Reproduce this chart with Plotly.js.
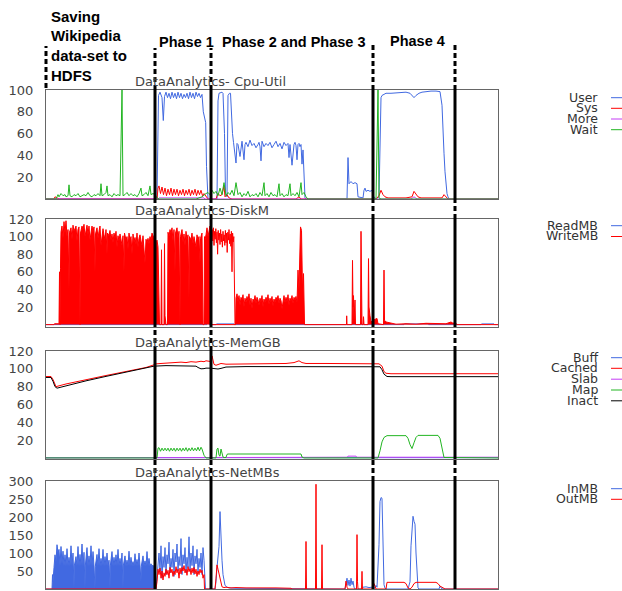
<!DOCTYPE html>
<html><head><meta charset="utf-8">
<script src="https://cdn.plot.ly/plotly-3.0.1.min.js"></script>
<style>html,body{margin:0;padding:0;background:#fff}#chart{width:622px;height:591px}</style>
</head><body><div id="chart"></div>
<script>
// ---------- DATA (time axis in samples, 0..452) ----------
const phaseBounds = [109, 165, 327, 409];
const panelTitles = ["DataAnalytics- Cpu-Util", "DataAnalytics-DiskM", "DataAnalytics-MemGB", "DataAnalytics-NetMBs"];
const cpuNames = ["User", "Sys", "More", "Wait"];
const diskNames = ["ReadMB", "WriteMB"];
const memNames = ["Buff", "Cached", "Slab", "Map", "Inact"];
const netNames = ["InMB", "OutMB"];
const cpuTicks = [20, 40, 60, 80, 100];
const diskTicks = [20, 40, 60, 80, 100, 120];
const memTicks = [20, 40, 60, 80, 100, 120];
const netTicks = [50, 100, 150, 200, 250, 300];

const cpuUserT = [0,111,112.5,114,116,117.3,118.5,120,121.5,123,124.5,126,127.5,129,130.5,132,133.5,135,136.5,138,139.5,141,142.5,144,145.5,147,148.5,150,151.5,153,154.5,156,157.3,158.5,159.7,160.5,161.3,162,
171,172,173,176,177,178.5,179.5,181,182,183.5,184.5,185.5,186.5,187.5,
188,190,191,192,194,196,198,199,200,202,204,206,208,210,212,213,214,215,216,218,220,222,224,226,228,230,232,234,236,237,238,240,242,243,244,246,248,249,250,251,252,253,254,255,256,257,258,259,260,
301,302,302.5,303,305,307,309,311,312,317,318,319,320,322,324,326,327,330,333,334,335,336,338,340,345,350,355,360,364,366,368,370,373,376,380,385,390,394,396,397,398,399,400,401,402,403,452];
const cpuUser = [0,0,95,98,93,72,94,98,93,97,92,98,93,97,92,98,93,97,92,96,93,97,92,98,93,97,92,98,94,97,93,96,80,75,70,30,2,0,
0,90,97,98,97,60,5,2,95,97,97,75,60,52,
49,33,51,50,39,53,36,50,52,48,54,49,51,47,50,52,48,35,53,48,51,49,52,47,50,53,48,51,46,50,52,49,51,38,50,31,50,52,49,36,50,51,48,50,32,45,10,1,0,
0,38,15,14,16,14,15,14,2,1,8,10,7,8,7,8,3,0,2,60,93,95,96,97,97,97.5,97.5,98,97,95,93,95,97,98,98.5,99,99,98.5,86,70,42,25,12,5,2,0,0];

const cpuSysT = [0,8,9,11,13,111,112,113,114.5,116,117.5,119,120.5,122,123.5,125,126.5,128,129.5,131,132.5,134,135.5,137,138.5,140,141.5,143,144.5,146,147.5,149,150.5,152,153.5,155,156.5,158,160,162,170,172,174,176,178,179,181,183,186,250,253,255,330,333,335,337,339,342,360,366,368,370,372,375,396,398,400,402,452];
const cpuSys = [0,0,2,1,0,0,10,12,5,11,4,10,3,9,4,10,3,9,4,9,3,8,4,9,3,8,4,9,3,8,4,9,3,8,4,8,3,5,2,0,0,5,3,4,12,2,4,1,0,0,2,0,0,3,8,4,2,1,1,2,7,4,2,1,1,4,2,0,0];

const cpuMoreT = [0,112,113,158,159,365,368,371,452];
const cpuMore = [0,0,1,1,0,0,2,0,0];

const cpuWaitT = [0,10,11,12,13,15,17,19,20,22,23,24,26,28,30,32,34,36,38,40,42,44,46,48,50,52,54,55,56,58,60,61,62,64,66,68,70,72,74,76,77,79,81,83,85,87,89,91,93,95,96,98,100,102,104,105,107,109,111,113,150,156,158,160,162,164,166,168,170,172,174,176,178,180,182,184,186,188,190,192,194,196,198,200,202,204,206,208,210,212,214,216,218,219,221,223,225,227,229,231,233,234,236,238,240,242,244,245,247,249,251,253,255,256,258,260,262,330,332,333,335,452];
const cpuWait = [0,0,2,4,2,5,3,4,2,3,13,3,2,4,3,5,2,3,4,3,6,3,2,4,3,5,3,14,3,4,6,12,3,4,2,5,3,4,3,100,3,4,6,3,5,3,4,2,5,10,3,4,6,3,12,4,5,4,1,0,0,2,4,5,6,4,8,5,7,3,10,4,15,3,6,4,8,3,15,4,6,2,5,3,7,2,4,3,5,2,6,3,15,3,5,2,6,3,4,2,14,3,5,2,4,3,14,3,5,3,6,2,15,4,6,2,0,0,100,1,0,0];

const diskReadT = [0,161,162,163,170,170.5,188,188.5,358,358.5,382,382.5,435,435.5,448,448.5,452];
const diskRead = [0,0,6,0,0,0.8,0.8,0,0,0.8,0.8,0,0,0.8,0.8,0,0];

const diskWriteT = [0,8,8.5,13,13.5,14,14.5,15,16,17,18,19,20,21,22,23,23.5,25,26,27,28,29,30,31,32,33,34,
34.5,36,37,38,39,40,41,42,43,44,45,46,47,48,49,49.5,51,52,53,54,55,56,57,58,59,60,61,61.5,63,64,65,66,67,68,69,70,71,72,73,74,75,76,77,78,
78.5,80,81,82,83,84,85,86,87,88,89,90,91,92,93,94,95,96,97,98,99,100,101,102,103,104,105,106,107,108,109,110,111,112,113,113.5,
115,115.5,116,118,118.5,119,120,121.5,122,123,124,125,126,127,128,129,129.5,131,132,133,134,134.5,136,137,138,139,140,141,142,143,143.5,145,146,147,148,149,150,151,152,153,154,154.5,156,157,158,158.5,159,160,161,162,163,164,164.5,
189.5,190,191,192,193,194,195,196,197,198,199,200,201,202,203,204,205,206,207,208,209,210,211,212,213,214,215,216,217,218,219,220,221,222,223,224,225,226,227,228,229,230,231,232,233,234,235,236,237,238,239,240,241,242,243,244,245,246,247,248,249,250,251,252,253,253.5,254.5,255.5,256.5,257.5,258,258.5,
300.5,300.7,301,306,306.5,307,307.5,308,309,309.5,314.5,315,315.5,316,317,317.5,318,322,322.5,323,324,325,327,331,332,337.5,338,338.5,340,345,350,360,370,380,390,400,405,407,409,411,452];
const diskWrite = [0,0,1,1,60,0,64,105,112,98,117,104,118,100,108,40,105,110,97,113,106,110,112,95,108,111,0,
104,112,108,114,100,110,113,102,112,96,108,112,105,111,60,103,110,98,106,112,90,105,109,102,96,108,80,104,101,107,96,103,93,104,98,106,88,101,95,103,97,90,101,60,
104,96,100,86,104,96,100,80,103,94,99,91,104,88,98,102,95,90,101,88,70,97,93,98,92,100,96,104,100,98,95,92,96,88,30,0,
0,85,0,0,92,10,0,0,105,100,108,104,110,95,108,60,104,110,98,106,0,100,108,94,103,90,106,96,102,30,100,96,104,92,100,95,88,102,96,100,70,98,104,0,0,100,96,102,110,100,106,112,0,
0,30,35,26,33,22,31,28,34,20,30,25,32,27,35,22,30,18,29,26,33,24,31,28,22,30,26,33,20,29,25,31,27,34,23,30,26,32,21,29,25,31,28,33,24,30,27,18,29,33,25,31,26,34,22,30,27,33,24,31,28,32,25,62,40,83,111,107,40,58,20,0,
0,10,0,0,73,20,33,5,28,0,0,106,10,0,0,9,0,0,75,20,10,3,5,7,1,0,62,5,3,2,0.5,1,0.5,1.5,1,1,3,1.5,2.5,0,0];
// WriteMB samples right after Phase 1 (a narrow band, not filled)
const diskWriteBandT = [165,165.6,166.2,166.8,167.4,168,168.6,169.2,169.8,170.4,171,171.6,172.2,172.8,173.4,174,174.6,175.2,175.8,176.4,177,177.6,178.2,178.8,179.4,180,180.6,181.2,181.8,182.4,183,183.6,184.2,184.8,185.4,186,186.6,187.2,187.8,188.4,189];
const diskWriteBand = [104,92,108,95,110,90,106,97,109,93,105,80,107,96,104,91,108,94,103,88,106,95,102,90,107,93,104,82,105,96,108,92,103,89,106,60,104,94,100,0,0];

const memBuffT = [0,452];
const memBuff = [0.3,0.3];
const memCachedT = [0,5,7,9,10,20,40,60,80,100,108,110,115,120,125,130,135,140,145,150,155,158,160,163,165,166,167,168,170,172,175,180,200,220,224,225,240,248,251,253,256,260,280,300,320,333,336,338,340,345,400,452];
const memCached = [91.4,91.4,88,82,80,83,88,92.5,97,101.5,104.5,105.5,106,106.5,106.3,107,107.5,107,108,107.5,108.5,108,109,108.5,108,114.5,110,105,104,104.5,106,105.2,105.3,105.3,105.8,106,106,107,108.5,109,107,106,106,106,105.8,105.6,103,97,95,94.5,94.5,94.5];
const memSlabT = [0,55,56,301,302,310,311,452];
const memSlab = [0,0,0.8,0.8,2,2,0.8,0.8];
const memMapT = [0,110,111,112,113,114.5,116,117.5,119,120.5,122,123.5,125,126.5,128,129.5,131,132.5,134,135.5,137,138.5,140,141.5,143,144.5,146,147.5,149,150.5,152,153.5,155,156,158,160,170,171,172,173,174,175,176,177,178,180,181,182,255,256,258,332,334,336,338,341,360,362,364,366,368,370,372,392,394,396,398,452];
const memMap = [0,0,0,11,11.5,7.5,11,8,11,8,11,7.5,11,8,11,7.5,11,8,11,7.5,11,8,11.5,7.5,11,8,11.5,8,11,8,12,8,12,10,3,0,0,10,11,3,2,10,3,1,0.5,0.5,4,4.4,4.4,1,0,0,8,18,23,25,25,22,15,10.5,17,23,25.3,25.3,22,10,0.5,0];
const memInactT = [0,5,7,9,11,20,40,60,80,100,108,120,140,150,152,155,158,160,165,168,172,175,180,200,240,280,320,334,336,338,341,345,452];
const memInact = [90.3,90.3,86,80,78.3,81,86.5,91.5,96.5,101,103,103.6,103.6,103,101.5,100,100.2,100.8,100.7,100.5,99.8,100.5,102,102.5,102.5,102.5,102.5,102.3,99,94,91.4,91.2,91.2];

// InMB while the data-set is saved (dense, drawn filled)
const netInFillT = [0,6,6.5,7,8,9,10,11,12,13,14,15,16,17,18,19,20,21,22,23,24,25,26,27,28,28.3,30,31,32,33,34,35,36,37,38,39,39.3,41,42,43,44,45,46,47,48,49,49.3,51,52,53,54,55,56,57,58,59,60,61,62,63,64,64.3,66,67,68,69,70,71,72,73,74,75,76,77,77.3,79,80,81,82,83,84,85,86,87,88,89,90,91,92,93,94,95,95.3,97,98,99,100,101,102,103,104,105,106,107,108,109,109.5];
const netInFill = [0,0,40,20,60,95,75,123,100,110,64,118,70,105,64,95,63,112,64,88,63,120,64,100,0,64,90,64,118,63,96,64,125,63,102,0,64,115,63,92,64,120,63,104,64,0,63,96,64,112,63,85,64,110,63,90,64,100,63,80,0,64,104,63,88,64,95,63,110,64,85,63,100,0,64,92,63,80,64,105,63,88,64,76,63,98,64,82,63,100,64,20,63,92,64,78,63,104,64,85,63,70,64,66,63,62,0];
const netInT = [110,111,112,113,114,115,116,117,118,119,120,121,122,123,124,125,126,127,128,129,130,131,132,133,134,135,136,137,138,139,140,141,142,143,144,145,146,147,148,149,150,151,152,153,154,155,156,157,158,159,159.5,
169,170,171,172,173,174,175,176,177,178,179,181,183,190,200,245,246,299,300,301,302,303,304,305,306,307,308,309,316,317,320,323,326,327,329,330,331,332,333,334,335,336,337,338,339,341,362,364,365,366,367,368,369,370,371,372,373,393,394,395,396,452];
const netIn = [0,40,75,100,50,120,30,90,60,115,40,95,70,130,45,85,60,110,35,100,75,125,50,90,65,140,40,95,70,115,45,88,60,145,50,100,65,120,40,92,70,110,45,85,60,100,40,115,80,30,0,
0,20,60,100,118,215,120,80,40,20,10,5,3,2,2,2,0,0,15,30,10,25,8,30,12,22,5,0,0,5,6,4,5,2,3,10,5,50,123,243,254,252,141,12,2,0,0,20,120,175,202,188,180,100,30,3,0,0,8,3,0,0];
const netOutT = [0,110,111,112,113,114,115,116,117,118,119,120,121,122,123,124,125,126,127,128,129,130,131,132,133,134,135,136,137,138,139,140,141,142,143,144,145,146,147,148,149,150,151,152,153,154,155,156,157,158,158.5,
169,170,171,172,173,174,175,176,178,180,185,190,200,210,220,230,240,245,246,259.5,260,260.5,269.5,270,270.5,275.5,276,276.5,299,300,301,302,310.5,311,311.5,312,315.5,316,316.5,327,328,329,330,340,341,358,360,362,364,366,368,370,390,392,394,396,398,399,452];
const netOut = [0,0,20,55,40,58,30,50,25,45,35,55,40,52,30,60,45,55,35,50,40,62,45,55,30,58,42,60,50,65,45,55,38,62,48,56,40,58,45,60,42,55,35,50,40,55,45,52,30,40,0,
0,30,67,55,40,25,12,6,4,5,3,4,3,4,3,3,3,2,0,0,132,0,0,291,0,0,123,0,0,22,5,0,0,151,20,0,0,49,0,0,15,5,0,0,18.5,18.5,15,3,0,5,15,18.5,18.5,15,8,5,2,0,0];

// ---------- LAYOUT HELPERS ----------
const W = 622, H = 591, L = 46, R = 498, TOP = 90, BOT = 589, XMAX = 452;
const px = x => (x - L) / (R - L);
const py = y => (BOT - y) / (BOT - TOP);
const panels = [[90,199],[219,327],[351,459],[481,589]];
const ranges = [[0,100],[-2.7,120],[-1.2,120],[0,300]];
const ticks = [cpuTicks, diskTicks, memTicks, netTicks];
const titleY = [81, 210, 342, 472];

const BLUE = '#4169e1', RED = '#ff0000', MAG = '#c43cf5', GREEN = '#22b522', BLACK = '#000000';

function tr(x, y, color, k, extra) {
  return Object.assign({x: x, y: y, type: 'scatter', mode: 'lines', line: {color: color, width: 1},
    xaxis: k === 1 ? 'x' : 'x' + k, yaxis: k === 1 ? 'y' : 'y' + k, showlegend: false, hoverinfo: 'skip'}, extra || {});
}

const data = [
  tr(cpuUserT, cpuUser, BLUE, 1),
  tr(cpuSysT, cpuSys, RED, 1),
  tr(cpuMoreT, cpuMore, MAG, 1),
  tr(cpuWaitT, cpuWait, GREEN, 1),
  tr(diskReadT, diskRead, BLUE, 2),
  tr(diskWriteT, diskWrite, RED, 2, {fill: 'tozeroy', fillcolor: RED}),
  tr(diskWriteBandT, diskWriteBand, RED, 2),
  tr(memBuffT, memBuff, BLUE, 3),
  tr(memCachedT, memCached, RED, 3),
  tr(memSlabT, memSlab, MAG, 3),
  tr(memMapT, memMap, GREEN, 3),
  tr(memInactT, memInact, BLACK, 3),
  tr(netInFillT, netInFill, BLUE, 4, {fill: 'tozeroy', fillcolor: BLUE}),
  tr(netInT, netIn, BLUE, 4),
  tr(netOutT, netOut, RED, 4)
];

const layout = {
  width: W, height: H, autosize: false,
  margin: {l: L, r: W - R, t: TOP, b: H - BOT, pad: 0},
  paper_bgcolor: '#fff', plot_bgcolor: '#fff',
  showlegend: false, shapes: [], annotations: []
};

for (let k = 1; k <= 4; k++) {
  const p = panels[k-1];
  layout[k === 1 ? 'xaxis' : 'xaxis' + k] = {
    domain: [0, 1], range: [0, XMAX], anchor: k === 1 ? 'y' : 'y' + k,
    showticklabels: false, ticks: '', showgrid: false, zeroline: false,
    showline: true, mirror: true, linecolor: '#666', linewidth: 1
  };
  layout[k === 1 ? 'yaxis' : 'yaxis' + k] = {
    domain: [py(p[1]), py(p[0])], range: ranges[k-1], anchor: k === 1 ? 'x' : 'x' + k,
    tickvals: ticks[k-1], showgrid: false, zeroline: false,
    showline: true, mirror: true, linecolor: '#666', linewidth: 1,
    ticks: 'outside', ticklen: 9, tickcolor: 'rgba(0,0,0,0)',
    tickfont: {family: 'DejaVu Sans', size: 13, color: '#444'}
  };
  layout.annotations.push({xref: 'paper', yref: 'paper', x: px(133), y: py(titleY[k-1]),
    xanchor: 'left', yanchor: 'middle', showarrow: false, text: panelTitles[k-1],
    font: {family: 'DejaVu Sans', size: 13, color: '#444'}});
}

// phase boundary lines: solid over the panels, dashed in the gaps and above
const dashTop = [48, 48, 45, 45];
function vline(xp, y0px, y1px, dashed) {
  layout.shapes.push({type: 'line', xref: 'paper', yref: 'paper', x0: xp, x1: xp, y0: py(y0px), y1: py(y1px),
    line: {color: '#000', width: 3, dash: dashed ? '5px,3px' : 'solid'}, layer: 'above'});
}
phaseBounds.forEach((b, i) => {
  const xp = b / XMAX;
  vline(xp, 90, dashTop[i], true);
  vline(xp, 219, 199, true);
  vline(xp, 351, 327, true);
  vline(xp, 481, 459, true);
  panels.forEach(p => vline(xp, p[1], p[0], false));
});
vline(0, 88, 46, true);

// legends (text right-aligned, sample line to the right)
const legends = [
  [cpuNames, [BLUE, RED, MAG, GREEN], [97.7, 108.3, 119, 129.7]],
  [diskNames, [BLUE, RED], [225.7, 236.5]],
  [memNames, [BLUE, RED, MAG, GREEN, BLACK], [357.7, 368.3, 379.2, 390, 400.8]],
  [netNames, [BLUE, RED], [488.7, 499.3]]
];
legends.forEach(([names, cols, ys]) => {
  names.forEach((n, i) => {
    layout.annotations.push({xref: 'paper', yref: 'paper', x: px(599.5), y: py(ys[i] - 0.5), xanchor: 'right', yanchor: 'middle',
      showarrow: false, text: n, font: {family: 'DejaVu Sans', size: 12.5, color: '#333'}});
    layout.shapes.push({type: 'line', xref: 'paper', yref: 'paper', x0: px(611), x1: px(623), y0: py(ys[i]), y1: py(ys[i]),
      line: {color: cols[i], width: 1}});
  });
});

// phase labels
const bold = {family: 'Liberation Sans', size: 15, color: '#000'};
[['Saving', 16], ['Wikipedia', 36], ['data-set to', 56], ['HDFS', 76]].forEach(([t, y]) => {
  layout.annotations.push({xref: 'paper', yref: 'paper', x: px(49), y: py(y), xanchor: 'left', yanchor: 'middle',
    showarrow: false, text: '<b>' + t + '</b>', font: bold});
});
[['Phase 1', 157, 42], ['Phase 2 and Phase 3', 220, 42], ['Phase 4', 388, 41]].forEach(([t, x, y]) => {
  layout.annotations.push({xref: 'paper', yref: 'paper', x: px(x), y: py(y), xanchor: 'left', yanchor: 'middle',
    showarrow: false, text: '<b>' + t + '</b>', font: {family: 'Liberation Sans', size: 14.5, color: '#000'}});
});

Plotly.newPlot('chart', data, layout, {staticPlot: true, displayModeBar: false});
</script></body></html>
